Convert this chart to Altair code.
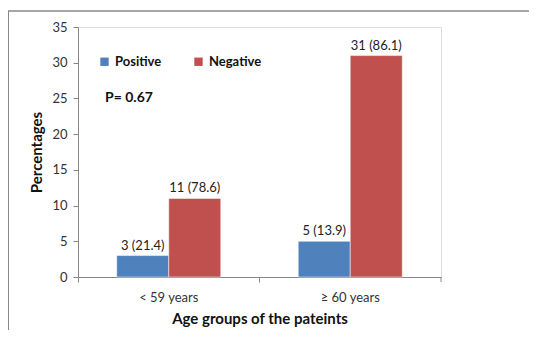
import altair as alt
import pandas as pd

groups = ["< 59 years", "≥ 60 years"]
status = ["Positive", "Negative"]
positive_vals = [3, 5]
negative_vals = [11, 31]
positive_labels = ["3 (21.4)", "5 (13.9)"]
negative_labels = ["11 (78.6)", "31 (86.1)"]
colors = ["#4F81BD", "#C0504D"]
p_text = "P= 0.67"

rows = []
for i, g in enumerate(groups):
    rows.append({"group": g, "status": "Positive", "value": positive_vals[i], "label": positive_labels[i]})
    rows.append({"group": g, "status": "Negative", "value": negative_vals[i], "label": negative_labels[i]})
df = pd.DataFrame(rows)

FONT = "Lato"

x = alt.X("group:N", sort=groups, title="Age groups of the pateints",
          scale=alt.Scale(paddingInner=0, paddingOuter=0),
          axis=alt.Axis(labelAngle=0, labelFontSize=13, labelColor="#333", titleFontSize=15,
                        titleFontWeight="bold", titleColor="#111", titlePadding=7,
                        domainColor="#888", tickColor="#888", tickSize=5, bandPosition=0,
                        labelPadding=9))
xo = alt.XOffset("status:N", sort=status,
                 scale=alt.Scale(paddingInner=0, paddingOuter=0.745))
y = alt.Y("value:Q", title="Percentages",
          scale=alt.Scale(domain=[0, 35]),
          axis=alt.Axis(values=list(range(0, 36, 5)), grid=False, labelFontSize=13,
                        labelColor="#333", titleFontSize=15, titleFontWeight="bold",
                        titleColor="#111", domainColor="#888", tickColor="#888",
                        tickSize=5, titlePadding=7, labelPadding=6))

bars = alt.Chart(df).mark_bar(stroke="white", strokeWidth=0.5).encode(
    x=x, xOffset=xo, y=y,
    color=alt.Color("status:N", sort=status,
                    scale=alt.Scale(domain=status, range=colors),
                    legend=alt.Legend(title=None, orient="none", legendX=20, legendY=28,
                                      direction="horizontal", symbolType="square",
                                      symbolSize=70, labelFontSize=13, labelFontWeight="bold",
                                      labelColor="#111", columnPadding=30, symbolStrokeWidth=0)),
)

labels = alt.Chart(df).mark_text(dy=-10, fontSize=13, color="#222", font=FONT).encode(
    x=x, xOffset=xo, y=y, text="label:N"
)

ptext = alt.Chart(pd.DataFrame({"t": [p_text]})).mark_text(
    align="left", fontSize=14, fontWeight="bold", color="#111", font=FONT
).encode(x=alt.value(27), y=alt.value(71), text="t:N")

deco = pd.DataFrame({"t": [0]})
top_line = alt.Chart(deco).mark_rule(color="#888", strokeWidth=1.5, clip=False).encode(
    x=alt.value(-70), x2=alt.value(451), y=alt.value(-16))
left_line = alt.Chart(deco).mark_rule(color="#888", strokeWidth=1, clip=False).encode(
    x=alt.value(-69.5), y=alt.value(-16), y2=alt.value(303))
end_tick = alt.Chart(deco).mark_rule(color="#888", strokeWidth=1, clip=False).encode(
    x=alt.value(363), y=alt.value(250), y2=alt.value(255))

chart = alt.layer(top_line, left_line, end_tick, bars, labels, ptext).properties(
    width=363, height=250,
    padding={"left": 70, "top": 19, "right": 88, "bottom": 53},
    autosize=alt.AutoSizeParams(type="none"),
).configure_view(stroke=None).configure(font=FONT, background="white")

chart.save("out.html", embed_options={"renderer": "svg", "actions": False})
